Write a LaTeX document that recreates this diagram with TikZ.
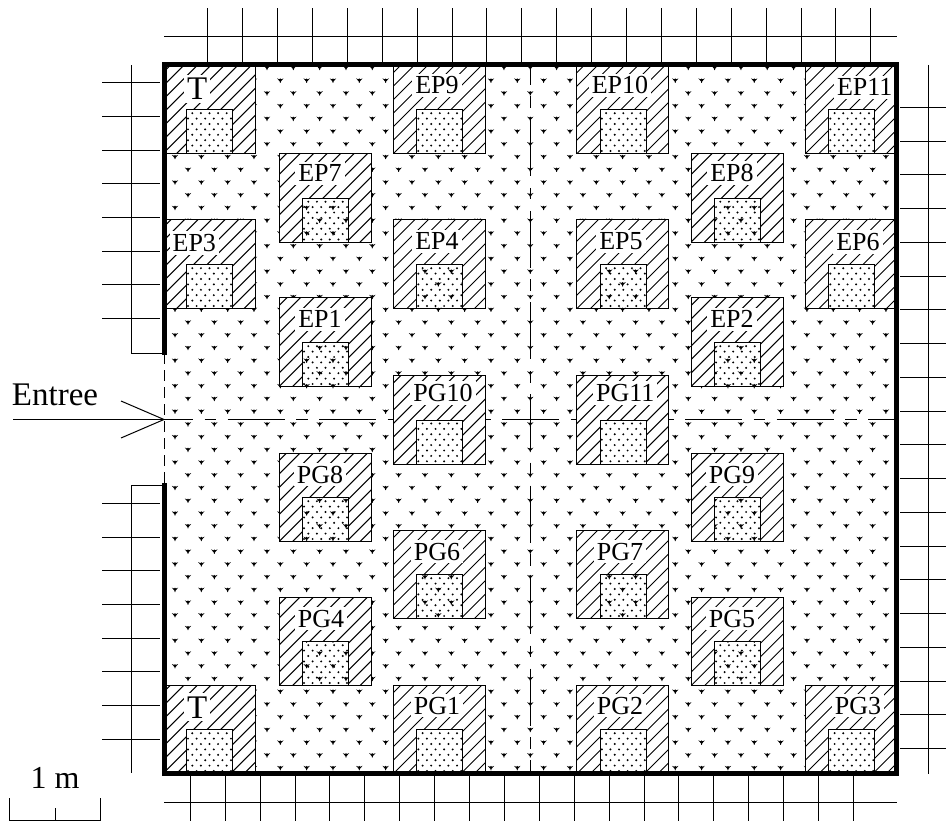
\documentclass[tikz,border=0pt]{standalone}
\usepackage{fontspec}
\setmainfont{Liberation Serif}

\tikzset{
  plotlabel/.style={anchor=base,fill=white,inner sep=3pt,font=\fontsize{26}{26}\selectfont},
  biglabel/.style={anchor=base,font=\fontsize{33}{33}\selectfont},
  wall/.style={line width=5pt,line cap=rect},
  axisline/.style={dash pattern=on 57pt off 11.5pt on 11.5pt off 11.5pt}
}

% small tree symbol of the ground cover
\newcommand{\treemark}[2]{
  \fill (#1,#2) +(-3.2,-1.8) -- +(-.9,-.9) -- +(0,-1.8) -- +(.9,-.9) -- +(3.2,-1.8) -- +(.6,1.2) -- +(.3,2.6) -- +(-.3,2.6) -- +(-.6,1.2) -- cycle;
}

% staggered rows of tree symbols
\newcommand{\groundcover}{
  \foreach \r in {0,2,...,54} {
    \foreach \c in {0,...,26} {
      \treemark{188+\c*26.33}{67.5+\r*12.73}
    }
    \foreach \c in {0,...,27} {
      \treemark{175+\c*26.33}{67.5+\r*12.73+12.73}
    }
  }
}

% one plot: hatched square with a dotted sub-plot at the bottom
\newcommand{\plotbox}[2]{
  \fill[white] (#1,#2) rectangle ++(92,88.7);
  \begin{scope}
    \clip (#1,#2) rectangle ++(92,88.7);
    \foreach \k in {0,...,14}
      \draw (#1+\k*13.5-94.5,#2+88.7) -- ++(100,-100);
  \end{scope}
  \draw (#1,#2) rectangle ++(92,88.7);
  \fill[white] (#1+23.5,#2+44.7) rectangle ++(46,44);
  \begin{scope}
    \clip (#1+23.5,#2+44.7) rectangle ++(46,44);
    \foreach \r/\s in {0/0,1/4.3,2/0,3/4.3,4/0,5/4.3,6/0,7/4.3,8/0}
      \foreach \c in {0,...,5}
        \fill (#1+23.5+\s+\c*8.6+1.5,#2+86-\r*5.4) circle[radius=1.1];
  \end{scope}
}

\begin{document}
\begin{tikzpicture}[x=1pt,y=-1pt,line width=1pt]
  \useasboundingbox (0,0) rectangle (946,821);

    % --------------------------------------------------------- %
    % ------------- ground cover and centre lines
    % --------------------------------------------------------- %
    \groundcover
    \draw[axisline,dash phase=28pt] (164,419.5) -- (897,419.5);
    \draw[axisline,dash phase=37pt] (530.7,65) -- (530.7,773);

    % --------------------------------------------------------- %
    % ------------- plots
    % --------------------------------------------------------- %
    \foreach \px/\py in {163/65,393.3/65,576.8/65,805.3/65,
                         279/153.5,691/153.5,
                         163/220,393.3/220,576.8/220,805.3/220,
                         279/298,691/298,
                         393.3/375.3,576.8/375.3,
                         279/453,691/453,
                         393.3/530,576.8/530,
                         279/597,691/597,
                         163/685,393.3/685,576.8/685,805.3/685}
      {\plotbox{\px}{\py}}

    % --- sub-plots where the ground cover shows through
    \begin{scope}
      \clip \foreach \px/\py in {279/153.5,691/153.5,393.3/220,576.8/220,279/298,691/298,
                                 279/453,691/453,393.3/530,576.8/530,279/597,691/597}
        {(\px+23.5,\py+44.7) rectangle ++(46,44)};
      \groundcover
    \end{scope}
    \foreach \px/\py in {163/65,393.3/65,576.8/65,805.3/65,
                         279/153.5,691/153.5,
                         163/220,393.3/220,576.8/220,805.3/220,
                         279/298,691/298,
                         393.3/375.3,576.8/375.3,
                         279/453,691/453,
                         393.3/530,576.8/530,
                         279/597,691/597,
                         163/685,393.3/685,576.8/685,805.3/685}
      \draw (\px+23.5,\py+44.7) rectangle ++(46,44);

    % --- plot labels
    \foreach \nm/\lx/\ly in {EP9/437/94,EP10/620/94,EP11/864.7/96,
                             EP7/320/181.7,EP8/732/181.7,
                             EP3/194.3/251.7,EP4/437/250,EP5/621/250,EP6/858/250.7,
                             EP1/320/328,EP2/732/328,
                             PG10/443/401.7,PG11/625.3/401.7,
                             PG8/320/483,PG9/732/483,
                             PG6/437/560,PG7/620/560,
                             PG4/321/627,PG5/732/627,
                             PG1/437/714,PG2/620/714,PG3/858/714}
      \node[plotlabel] (\nm) at (\lx,\ly) {\nm};
    \node[biglabel,fill=white,inner sep=3pt] (ttop) at (197.3,100) {T};
    \node[biglabel,fill=white,inner sep=3pt] (tbottom) at (197.3,718) {T};

    % --------------------------------------------------------- %
    % ------------- fences around the field
    % --------------------------------------------------------- %
    % --- top
    \draw (164,36.7) -- (896.7,36.7);
    \foreach \k in {0,...,19}
      \draw (207.7+\k*34.9,8.5) -- (207.7+\k*34.9,65);
    % --- bottom
    \draw (164,802.7) -- (896.7,802.7);
    \foreach \k in {0,...,19}
      \draw (190.3+\k*34.9,776) -- (190.3+\k*34.9,821);
    % --- right
    \draw (928.3,65) -- (928.3,774);
    \foreach \k in {0,...,19}
      \draw (900,107.3+\k*33.75) -- (946,107.3+\k*33.75);
    % --- left, above and below the entrance
    \draw (164,353.3) -- (131,353.3) -- (131,65);
    \foreach \k in {0,...,7}
      \draw (102,82.7+\k*33.7) -- (160,82.7+\k*33.7);
    \draw (164,485.7) -- (131,485.7) -- (131,773.3);
    \foreach \k in {0,...,7}
      \draw (102,503.3+\k*33.7) -- (160,503.3+\k*33.7);

    % --------------------------------------------------------- %
    % ------------- walls
    % --------------------------------------------------------- %
    \draw[wall] (164.5,353) -- (164.5,65) -- (896.5,65) -- (896.5,773.5) -- (164.5,773.5) -- (164.5,485.7);
    \draw[dash pattern=on 11pt off 6pt] (164.5,353) -- (164.5,486);

    % --------------------------------------------------------- %
    % ------------- entrance
    % --------------------------------------------------------- %
    \node[biglabel,anchor=base west,inner sep=0pt] (entree) at (11.5,405) {Entree};
    \coordinate (tail) at (13,419.5);
    \coordinate (tip) at (164,419.5);
    \coordinate (barbup) at (121,401);
    \coordinate (barbdown) at (121,438);
    \draw (tail) -- (tip);
    \draw (barbup) -- (tip) -- (barbdown);

    % --------------------------------------------------------- %
    % ------------- scale
    % --------------------------------------------------------- %
    \node[biglabel,font=\fontsize{32}{32}\selectfont] (scale) at (55,788) {1 m};
    \draw (9.3,798) -- (9.3,820.5) -- (100.7,820.5) -- (100.7,798);
    \draw (55,808) -- (55,820.5);

  \end{tikzpicture}
\end{document}
